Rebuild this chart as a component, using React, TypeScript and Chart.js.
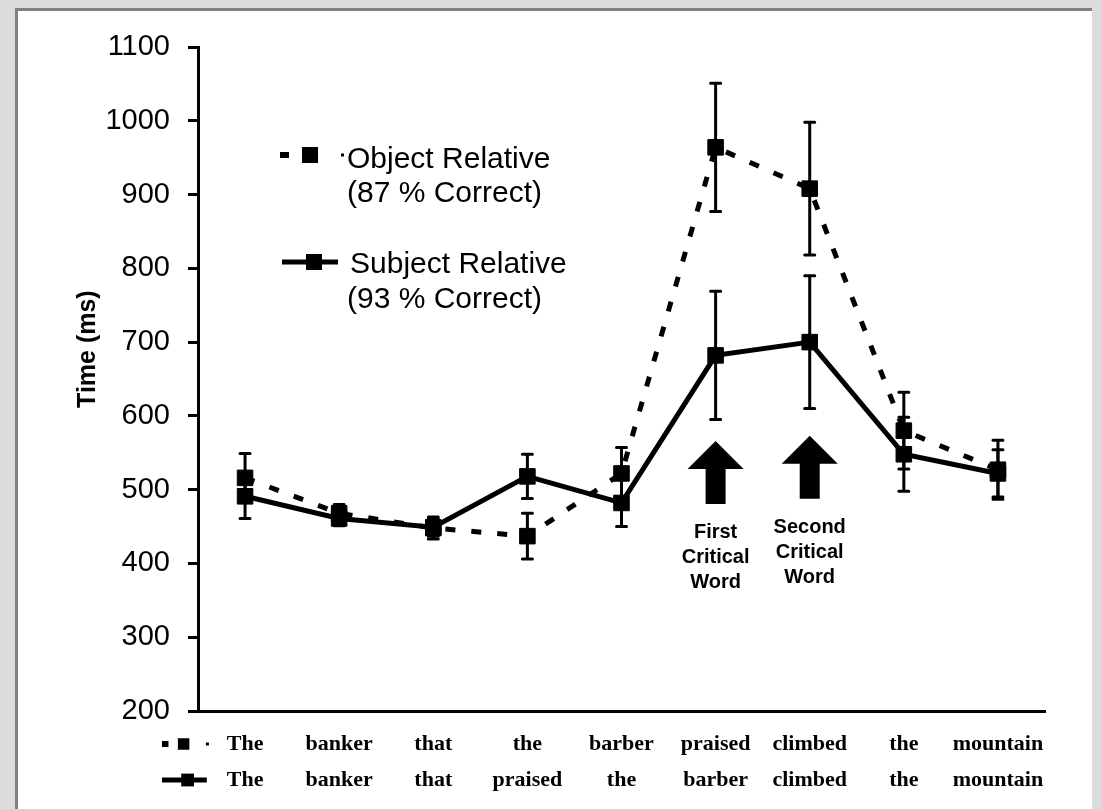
import React, { useEffect, useRef } from 'react';
import { Chart, registerables } from 'chart.js';

Chart.register(...registerables);

// ---- data ----
const objectWords = ['The', 'banker', 'that', 'the', 'barber', 'praised', 'climbed', 'the', 'mountain'];
const subjectWords = ['The', 'banker', 'that', 'praised', 'the', 'barber', 'climbed', 'the', 'mountain'];
const objectValues = [516, 468, 448, 437, 522, 964, 908, 580, 527];
const objectErrors = [33, 12, 15, 31, 35, 87, 90, 52, 40];
const subjectValues = [491, 461, 449, 518, 482, 682, 700, 548, 522];
const subjectErrors = [30, 10, 12, 30, 32, 87, 90, 50, 32];
const yMin = 200;
const yMax = 1100;
const yStep = 100;
const legendObject = ['Object Relative', '(87 % Correct)'];
const legendSubject = ['Subject Relative', '(93 % Correct)'];
const yTitle = 'Time (ms)';
const arrowIndices = [5, 6];
const arrowTips = [566, 573];
const arrowTexts = [
  ['First', 'Critical', 'Word'],
  ['Second', 'Critical', 'Word'],
];

const SANS = '"Liberation Sans", Arial, sans-serif';
const SERIF = '"Liberation Serif", "Times New Roman", serif';

const errorBarPlugin = {
  id: 'errorBars',
  beforeDatasetsDraw(chart: any) {
    const { ctx, scales } = chart;
    const x = scales.x;
    const y = scales.y;
    ctx.save();
    ctx.strokeStyle = '#000';
    ctx.lineWidth = 3;
    ctx.lineCap = 'round';
    const sets: [number[], number[]][] = [
      [objectValues, objectErrors],
      [subjectValues, subjectErrors],
    ];
    sets.forEach(([vals, errs]) => {
      vals.forEach((v, i) => {
        const px = x.getPixelForValue(i);
        const top = y.getPixelForValue(v + errs[i]);
        const bot = y.getPixelForValue(v - errs[i]);
        ctx.beginPath();
        ctx.moveTo(px, top);
        ctx.lineTo(px, bot);
        ctx.moveTo(px - 5, top);
        ctx.lineTo(px + 5, top);
        ctx.moveTo(px - 5, bot);
        ctx.lineTo(px + 5, bot);
        ctx.stroke();
      });
    });
    ctx.restore();
  },
};

function drawDashSample(ctx: CanvasRenderingContext2D, x0: number, y: number, big: boolean) {
  // dash - square - dot
  const s = big ? 1 : 0.72;
  ctx.fillStyle = '#000';
  ctx.fillRect(x0, y - 3, 9 * s, 6);
  ctx.fillRect(x0 + 22 * s, y - 8 * s, 16 * s, 16 * s);
  ctx.fillRect(x0 + 61 * s, y - 1.5, 3, 3);
}

function drawSolidSample(ctx: CanvasRenderingContext2D, x0: number, y: number, big: boolean) {
  const s = big ? 1 : 0.8;
  ctx.fillStyle = '#000';
  ctx.fillRect(x0, y - 2.5, 56 * s, 5);
  ctx.fillRect(x0 + 24 * s, y - 8 * s, 16 * s, 16 * s);
}

const annotationPlugin = {
  id: 'annotations',
  afterDraw(chart: any) {
    const { ctx, scales, chartArea } = chart;
    const x = scales.x;
    const y = scales.y;
    ctx.save();
    ctx.fillStyle = '#000';

    // y axis title
    ctx.save();
    ctx.translate(chartArea.left - 110, chartArea.top + chartArea.height * 0.455);
    ctx.rotate(-Math.PI / 2);
    ctx.font = `bold 25px ${SANS}`;
    ctx.textAlign = 'center';
    ctx.textBaseline = 'middle';
    ctx.fillText(yTitle, 0, 0);
    ctx.restore();

    // in-chart legend
    const lx = chartArea.left + 82;
    ctx.font = `30px ${SANS}`;
    ctx.textAlign = 'left';
    ctx.textBaseline = 'alphabetic';
    drawDashSample(ctx, lx, 155, true);
    ctx.fillText(legendObject[0], lx + 67, 168);
    ctx.fillText(legendObject[1], lx + 67, 202);
    drawSolidSample(ctx, lx + 2, 262, true);
    ctx.fillText(legendSubject[0], lx + 70, 273);
    ctx.fillText(legendSubject[1], lx + 67, 308);

    // arrows and their captions
    arrowIndices.forEach((idx, k) => {
      const px = x.getPixelForValue(idx);
      const tip = y.getPixelForValue(arrowTips[k]);
      ctx.beginPath();
      ctx.moveTo(px, tip);
      ctx.lineTo(px + 28, tip + 28);
      ctx.lineTo(px + 10, tip + 28);
      ctx.lineTo(px + 10, tip + 63);
      ctx.lineTo(px - 10, tip + 63);
      ctx.lineTo(px - 10, tip + 28);
      ctx.lineTo(px - 28, tip + 28);
      ctx.closePath();
      ctx.fill();
      ctx.font = `bold 20px ${SANS}`;
      ctx.textAlign = 'center';
      ctx.textBaseline = 'middle';
      arrowTexts[k].forEach((t, j) => {
        ctx.fillText(t, px, tip + 92 + j * 25);
      });
    });

    // two rows of word labels under the x axis
    const row1 = chartArea.bottom + 33;
    const row2 = chartArea.bottom + 69;
    ctx.font = `bold 22px ${SERIF}`;
    ctx.textAlign = 'center';
    ctx.textBaseline = 'middle';
    objectWords.forEach((w, i) => ctx.fillText(w, x.getPixelForValue(i), row1));
    subjectWords.forEach((w, i) => ctx.fillText(w, x.getPixelForValue(i), row2));
    drawDashSample(ctx, chartArea.left - 36, row1, false);
    drawSolidSample(ctx, chartArea.left - 36, row2, false);

    ctx.restore();
  },
};

export default function App() {
  const canvasRef = useRef<HTMLCanvasElement | null>(null);

  useEffect(() => {
    if (!canvasRef.current) return;
    const chart = new Chart(canvasRef.current, {
      type: 'line',
      data: {
        labels: objectWords,
        datasets: [
          {
            label: legendObject[0],
            data: objectValues,
            borderColor: '#000',
            backgroundColor: '#000',
            borderWidth: 5,
            borderDash: [10, 16],
            pointStyle: 'rect',
            pointRadius: 11,
            pointBorderWidth: 1,
            pointBackgroundColor: '#000',
            pointBorderColor: '#000',
            tension: 0,
            fill: false,
          },
          {
            label: legendSubject[0],
            data: subjectValues,
            borderColor: '#000',
            backgroundColor: '#000',
            borderWidth: 5,
            pointStyle: 'rect',
            pointRadius: 11,
            pointBorderWidth: 1,
            pointBackgroundColor: '#000',
            pointBorderColor: '#000',
            tension: 0,
            fill: false,
          },
        ],
      },
      options: {
        responsive: false,
        animation: false,
        devicePixelRatio: 1,
        layout: { padding: { left: 0, top: 47, right: 57, bottom: 0 } },
        plugins: {
          legend: { display: false },
          tooltip: { enabled: false },
          title: { display: false },
        },
        scales: {
          x: {
            type: 'category',
            offset: true,
            grid: { display: false, drawTicks: false },
            border: { display: true, color: '#000', width: 3 },
            ticks: { display: false },
            afterFit: (s: any) => {
              s.height = 98;
            },
          },
          y: {
            min: yMin,
            max: yMax,
            grid: {
              display: true,
              drawOnChartArea: false,
              drawTicks: true,
              tickLength: 10,
              tickWidth: 3,
              tickColor: '#000',
              color: '#000',
            },
            border: { display: true, color: '#000', width: 3 },
            ticks: {
              stepSize: yStep,
              padding: 18,
              color: '#000',
              font: { family: SANS, size: 29 },
              callback: (v: any) => String(v),
            },
            afterFit: (s: any) => {
              s.width = 198;
            },
          },
        },
      },
      plugins: [errorBarPlugin, annotationPlugin],
    });
    return () => chart.destroy();
  }, []);

  return (
    <div
      style={{
        position: 'fixed',
        left: 0,
        top: 0,
        width: 1102,
        height: 809,
        background: '#dcdcdc',
        overflow: 'hidden',
      }}
    >
      <div
        style={{
          position: 'absolute',
          left: 15,
          top: 8,
          width: 1074,
          height: 820,
          background: '#fff',
          borderLeft: '3px solid #808080',
          borderTop: '3px solid #808080',
        }}
      />
      <canvas
        ref={canvasRef}
        width={1102}
        height={809}
        style={{ position: 'absolute', left: 0, top: 0, width: 1102, height: 809 }}
      />
    </div>
  );
}
